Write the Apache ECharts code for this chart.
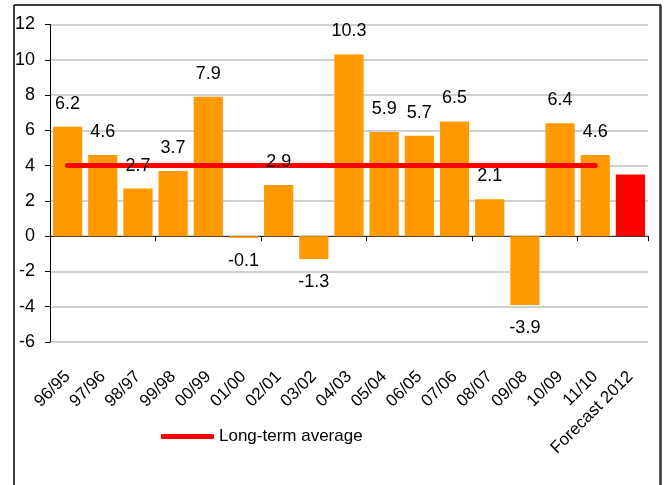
<!DOCTYPE html>
<html><head><meta charset="utf-8">
<script src="https://cdn.jsdelivr.net/npm/echarts@6/dist/echarts.min.js"></script>
<style>html,body{margin:0;padding:0;background:#fff}#c{width:665px;height:485px}</style>
</head><body><div id="c"></div>
<script>
const categories = ['96/95','97/96','98/97','99/98','00/99','01/00','02/01','03/02','04/03','05/04','06/05','07/06','08/07','09/08','10/09','11/10','Forecast 2012'];
const growth = [6.2,4.6,2.7,3.7,7.9,-0.1,2.9,-1.3,10.3,5.9,5.7,6.5,2.1,-3.9,6.4,4.6,3.5];
const showLabel = [true,true,true,true,true,true,true,true,true,true,true,true,true,true,true,true,false];
const longTermAverage = [4,4,4,4,4,4,4,4,4,4,4,4,4,4,4,4,null];
const yTicks = {min:-6, max:12, interval:2};
const FONT = '"Liberation Sans Narrow", "Liberation Sans", Arial, sans-serif';

const chart = echarts.init(document.getElementById('c'), null, {renderer:'canvas'});
const barData = growth.map((v,i)=>({
  value: v,
  itemStyle: {color: i === growth.length-1 ? '#ff0000' : '#ff9900'}
}));
const labelData = growth.map((v,i)=>({
  value: v,
  label: {show: showLabel[i]}
}));
chart.setOption({
  animation:false,
  backgroundColor:'#fff',
  grid:{left:50, right:17, top:24.5, bottom:143},
  legend:{
    left:156, top:423, icon:'roundRect', itemWidth:53, itemHeight:5,
    textStyle:{fontFamily:FONT, fontSize:17, color:'#000'},
    data:['Long-term average']
  },
  graphic:[
    {type:'line', shape:{x1:14,y1:5,x2:14,y2:490}, style:{stroke:'#000', lineWidth:1.5}, z:10},
    {type:'line', shape:{x1:14,y1:5,x2:661,y2:5}, style:{stroke:'#000', lineWidth:1.5}, z:10},
    {type:'line', shape:{x1:660.5,y1:5,x2:660.5,y2:490}, style:{stroke:'#333', lineWidth:2.5}, z:10}
  ],
  xAxis:[
    {type:'category', data:categories, position:'bottom',
     axisLine:{onZero:true, lineStyle:{color:'#333', width:1}},
     axisTick:{show:true, length:5, lineStyle:{color:'#000'}},
     axisLabel:{show:false}, splitLine:{show:false}},
    {type:'category', data:categories, position:'bottom',
     axisLine:{show:false}, axisTick:{show:false},
     axisLabel:{rotate:45, margin:32, fontFamily:FONT, fontSize:17, color:'#000', interval:0}}
  ],
  yAxis:{type:'value', min:yTicks.min, max:yTicks.max, interval:yTicks.interval,
    axisLine:{show:true, lineStyle:{color:'#000', width:1}},
    axisTick:{show:true, length:5, lineStyle:{color:'#000'}},
    axisLabel:{margin:15, fontFamily:FONT, fontSize:18, color:'#000'},
    splitLine:{show:true, lineStyle:{color:'#c0c0c0', width:1.5}}
  },
  series:[
    {type:'bar', name:'Growth', xAxisIndex:0, data:barData, barCategoryGap:'17%', z:2,
     label:{show:false}},
    {type:'line', name:'Long-term average', xAxisIndex:0, data:longTermAverage, z:3,
     showSymbol:false, symbol:'none',
     lineStyle:{color:'#ff0000', width:5, cap:'round'}, itemStyle:{color:'#ff0000'}},
    {type:'bar', name:'Labels', xAxisIndex:0, data:labelData, barGap:'-100%', barCategoryGap:'17%', z:4,
     itemStyle:{color:'rgba(0,0,0,0)'}, silent:true,
     label:{show:true, position:'outside', distance:14, fontFamily:FONT, fontSize:18, color:'#000'}}
  ]
});
</script></body></html>
